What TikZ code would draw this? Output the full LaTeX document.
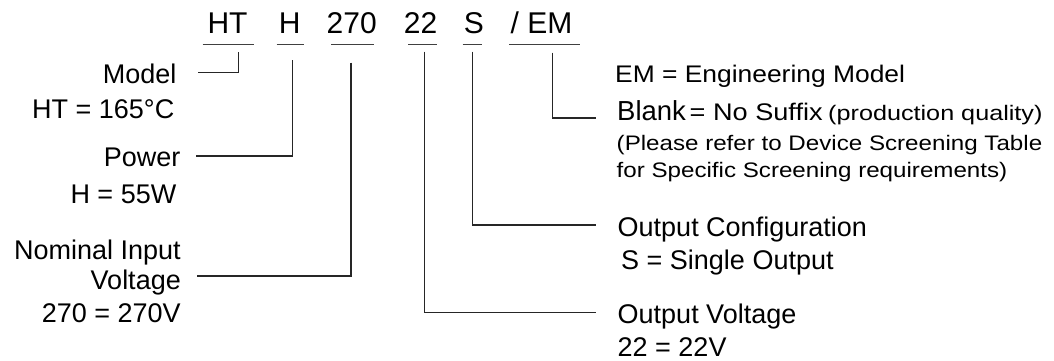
\documentclass[tikz,border=0pt]{standalone}
\usepackage{fontspec}
\setmainfont{Liberation Sans}
\newfontfamily\stretchA[FakeStretch=1.1]{Liberation Sans}
\newfontfamily\stretchB[FakeStretch=1.15]{Liberation Sans}
\newfontfamily\stretchC[FakeStretch=1.13]{Liberation Sans}
\newfontfamily\stretchD[FakeStretch=1.2]{Liberation Sans}
\begin{document}
\begin{tikzpicture}[x=1pt,y=-1pt]
\tikzset{
  lbl/.style={inner sep=0pt, font=\fontsize{27}{30}\selectfont},
  lblE/.style={lbl, anchor=base east},
  lblW/.style={lbl, anchor=base west},
  hdr/.style={inner sep=0pt, anchor=base, font=\fontsize{30}{33}\selectfont},
  note/.style={inner sep=0pt, anchor=base west, font=\stretchB\fontsize{21}{23}\selectfont},
  uline/.style={draw=black!75, line width=1.1pt},
  conn/.style={draw=black!85, line width=1.2pt},
}
\useasboundingbox[fill=white] (0,0) rectangle (1054,360);

% header code
\node[hdr] (hHT)  at (227.5,33.3) {HT};
\node[hdr] (hH)   at (289.7,33.3) {H};
\node[hdr] (h270) at (351.7,33.3) {270};
\node[hdr] (h22)  at (420.5,33.3) {22};
\node[hdr] (hS)   at (473.8,33.3) {S};
\node[hdr] (hEM)  at (541.5,33.3) {/ EM};

% underlines
\draw[uline] (202.7,44.5) -- (254,44.5);
\draw[uline] (276.7,44.5) -- (304.3,44.5);
\draw[uline] (331,44.5) -- (374.3,44.5);
\draw[uline] (408.3,44.5) -- (436.7,44.5);
\draw[uline] (462.7,44.5) -- (482.3,44.5);
\draw[uline] (509.3,44.5) -- (580,44.5);

% left labels
\node[lblE] (model) at (176.5,83) {Model};
\node[lblE] (modelv) at (174.5,118.3) {HT = 165°C};
\node[lblE] (power) at (180.5,166) {Power};
\node[lblE] (powerv) at (176.5,203) {H = 55W};
\node[lblE] (nom1) at (181,259.5) {Nominal Input};
\node[lblE] (nom2) at (181,289.5) {Voltage};
\node[lblE] (nomv) at (181,322.5) {270 = 270V};

% right labels
\node[inner sep=0pt, anchor=base west, font=\stretchA\fontsize{24}{26}\selectfont] (em) at (615,82) {EM = Engineering Model};
\node[inner sep=0pt, anchor=base west, font=\fontsize{27.5}{30}\selectfont] (blank) at (617,120) {Blank};
\node[inner sep=0pt, anchor=base west, font=\stretchC\fontsize{24}{26}\selectfont] (nosuf) at (689.5,120) {= No Suffix};
\node[inner sep=0pt, anchor=base west, font=\stretchD\fontsize{21}{23}\selectfont] (prodq) at (828,120) {(production quality)};
\node[note] (note1) at (616.5,150) {(Please refer to Device Screening Table};
\node[note] (note2) at (616.5,177) {for Specific Screening requirements)};
\node[lblW] (ocfg) at (617.5,236.7) {Output Configuration};
\node[lblW] (ocfgv) at (621,269.3) {S = Single Output};
\node[lblW] (ovolt) at (617.5,323.3) {Output Voltage};
\node[lblW] (ovoltv) at (617.5,356) {22 = 22V};

% connectors
\coordinate (tHT) at (238.3,52.3);  \coordinate (eHT) at (198.3,72.5);
\coordinate (tH) at (292.7,60);     \coordinate (eH) at (196,156);
\coordinate (t270) at (351,62.7);   \coordinate (e270) at (196.7,276);
\coordinate (t22) at (424.3,51.7);  \coordinate (e22) at (595.7,312.7);
\coordinate (tS) at (472.7,51.7);   \coordinate (eS) at (595.7,225);
\coordinate (tEM) at (552.7,52.7);  \coordinate (eEM) at (595.7,118);
\draw[conn] (tHT) |- (eHT);
\draw[conn] (tH) |- (eH);
\draw[conn] (t270) |- (e270);
\draw[conn] (t22) |- (e22);
\draw[conn] (tS) |- (eS);
\draw[conn] (tEM) |- (eEM);
\end{tikzpicture}
\end{document}
